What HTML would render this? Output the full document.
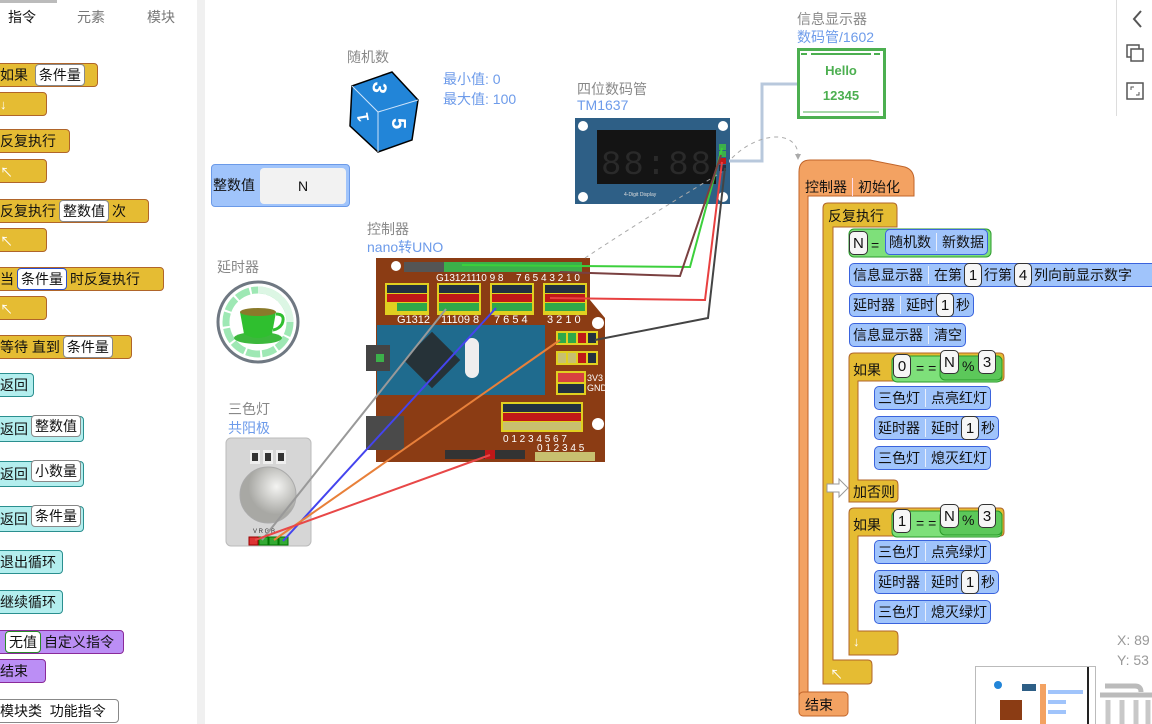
<!DOCTYPE html>
<html><head><meta charset="utf-8">
<style>
*{box-sizing:border-box;margin:0;padding:0}
body{width:1152px;height:724px;overflow:hidden;background:#fff;position:relative;font-family:"Liberation Sans","Noto Sans CJK SC",sans-serif;font-size:14px;color:#111}
.a{position:absolute}
.b{position:absolute;display:flex;align-items:center;white-space:nowrap;border-radius:4px;height:24px;padding:0 3px;font-size:14px}
.y{background:#e5bc33;border:1px solid #b0652a}
.c{background:#b3eeee;border:1px solid #2a8f8f}
.p{background:#bb8ef5;border:1px solid #8a2a9a}
.w{background:#fff;border:1px solid #888;border-radius:4px;height:22px;padding:0 3px;display:flex;align-items:center;margin:0 3px}
.bl{background:#a0c4fb;border:1px solid #3a63dd;border-radius:5px}
.sep{width:1px;height:18px;background:#e8eefc;margin:0 5px}
.n{background:#f6f6f6;border:1px solid #333;border-radius:5px;height:24px;min-width:18px;justify-content:center;display:flex;align-items:center;padding:0 3px;font-size:15px}
.lbl{position:absolute;font-size:14px;color:#888}
.lb2{position:absolute;font-size:14px;color:#6d9bea}
.ar{color:#fff;font-size:13px}
</style></head><body>

<div class="a" style="left:0;top:0;width:57px;height:3px;background:#bbb"></div>
<div class="a" style="left:197px;top:0;width:8px;height:724px;background:#f0f0f0"></div>
<div class="a" style="left:8px;top:7px">指令</div>
<div class="a" style="left:77px;top:7px;color:#777">元素</div>
<div class="a" style="left:147px;top:7px;color:#777">模块</div>

<div class="b y" style="left:-4px;top:63px;width:102px">如果&nbsp;<span class="w">条件量</span></div>
<div class="b y" style="left:-4px;top:92px;width:51px"><span class="ar">↓</span></div>
<div class="b y" style="left:-4px;top:129px;width:74px">反复执行</div>
<div class="b y" style="left:-4px;top:159px;width:51px"><span class="ar">↖</span></div>
<div class="b y" style="left:-4px;top:199px;width:153px">反复执行<span class="w">整数值</span>次</div>
<div class="b y" style="left:-4px;top:228px;width:51px"><span class="ar">↖</span></div>
<div class="b y" style="left:-4px;top:267px;width:168px">当<span class="w" style="border-color:#2a4fd0">条件量</span>时反复执行</div>
<div class="b y" style="left:-4px;top:296px;width:51px"><span class="ar">↖</span></div>
<div class="b y" style="left:-4px;top:335px;width:136px">等待 直到<span class="w">条件量</span></div>
<div class="b c" style="left:-4px;top:373px;width:38px">返回</div>
<div class="b c" style="left:-4px;top:416px;width:88px;height:26px">返回<span class="w" style="margin-top:-6px">整数值</span></div>
<div class="b c" style="left:-4px;top:461px;width:88px;height:26px">返回<span class="w" style="margin-top:-6px">小数量</span></div>
<div class="b c" style="left:-4px;top:506px;width:88px;height:26px">返回<span class="w" style="margin-top:-6px">条件量</span></div>
<div class="b c" style="left:-4px;top:550px;width:67px">退出循环</div>
<div class="b c" style="left:-4px;top:590px;width:67px">继续循环</div>
<div class="b p" style="left:-4px;top:630px;width:128px"><span class="w" style="border-color:#2a8a2a;margin-left:5px">无值</span>自定义指令</div>
<div class="b p" style="left:-4px;top:659px;width:50px">结束</div>
<div class="b" style="left:-4px;top:699px;width:123px;border:1px solid #888;background:#fff">模块类&nbsp;&nbsp;功能指令</div>

<svg class="a" style="left:0;top:0" width="1152" height="724">
 <g stroke="#000" stroke-width="1.5">
  <path d="M352,86 L392,72 L418,100 L412,140 L378,152 L350,126 Z" fill="#2285d8"/>
 </g>
 <path d="M352,86 L378,112 L418,100 M378,112 L378,152" stroke="#cfe4fa" stroke-width="1" fill="none"/>
 <text x="368" y="98" fill="#fff" font-size="20" font-weight="bold" transform="rotate(100 378 92)" font-family="Liberation Sans">3</text>
 <text x="390" y="132" fill="#fff" font-size="20" font-weight="bold" transform="rotate(90 398 126)" font-family="Liberation Sans">5</text>
 <text x="356" y="122" fill="#fff" font-size="16" font-weight="bold" transform="rotate(-100 362 116)" font-family="Liberation Sans">1</text>

 <circle cx="258" cy="322" r="40" fill="#fff" stroke="#6f7882" stroke-width="3"/>
 <circle cx="258" cy="322" r="32" fill="none" stroke="#9ee8b4" stroke-width="7" stroke-dasharray="14 2"/>
 <path d="M258,290 A32,32 0 0 1 290,322" fill="none" stroke="#dcf6e4" stroke-width="7"/>
 <ellipse cx="258" cy="338" rx="24" ry="6" fill="#3cb83c"/>
 <path d="M240,312 L276,312 L272,334 Q258,342 244,334 Z" fill="#2fbf2f"/>
 <ellipse cx="258" cy="312" rx="18" ry="4" fill="#8a7a2a"/>
 <path d="M276,314 q10,0 6,10 q-3,5 -9,6" fill="none" stroke="#2fbf2f" stroke-width="3"/>

 <rect x="226" y="438" width="85" height="108" rx="5" fill="#d6d6d6" stroke="#bbb"/>
 <rect x="250" y="450" width="10" height="14" fill="#eee"/><rect x="252" y="453" width="6" height="8" fill="#333"/>
 <rect x="263" y="450" width="10" height="14" fill="#eee"/><rect x="265" y="453" width="6" height="8" fill="#333"/>
 <rect x="276" y="450" width="10" height="14" fill="#eee"/><rect x="278" y="453" width="6" height="8" fill="#333"/>
 <defs><radialGradient id="g1" cx="0.65" cy="0.35"><stop offset="0" stop-color="#f4f4f2"/><stop offset="1" stop-color="#a8a8a4"/></radialGradient></defs>
 <circle cx="268" cy="495" r="28" fill="url(#g1)" stroke="#aaa"/>
 <rect x="249" y="537" width="9" height="8" fill="#d33" stroke="#900"/>
 <rect x="259" y="537" width="9" height="8" fill="#3a3" stroke="#070"/>
 <rect x="269" y="537" width="9" height="8" fill="#3a3" stroke="#070"/>
 <rect x="279" y="537" width="9" height="8" fill="#3a3" stroke="#070"/>
 <text x="253" y="533" font-size="6" fill="#333">V R G B</text>

 <path d="M376,258 L590,258 L590,300 L605,318 L605,462 L376,462 Z" fill="#8b3c14"/>
 <circle cx="396" cy="266" r="5" fill="#fff"/><circle cx="598" cy="323" r="6" fill="#fff"/><circle cx="598" cy="424" r="6" fill="#fff"/>
 <rect x="404" y="262" width="178" height="10" fill="#555"/>
 <rect x="444" y="262" width="138" height="10" fill="#3cb04a"/>
 <g font-size="10" fill="#fff" font-family="Liberation Sans"><text x="436" y="281">G13121110 9 8</text><text x="516" y="281">7 6 5 4 3 2 1 0</text></g>
 <g fill="#e0d020">
  <rect x="385" y="283" width="44" height="32"/><rect x="437" y="283" width="44" height="32"/><rect x="490" y="283" width="44" height="32"/><rect x="543" y="283" width="44" height="32"/>
 </g>
 <g>
  <rect x="387" y="285" width="40" height="8" fill="#223040"/><rect x="439" y="285" width="40" height="8" fill="#223040"/><rect x="492" y="285" width="40" height="8" fill="#223040"/><rect x="545" y="285" width="40" height="8" fill="#223040"/>
  <rect x="387" y="294" width="40" height="8" fill="#c01818"/><rect x="439" y="294" width="40" height="8" fill="#c01818"/><rect x="492" y="294" width="40" height="8" fill="#c01818"/><rect x="545" y="294" width="40" height="8" fill="#c01818"/>
  <rect x="397" y="303" width="30" height="8" fill="#2fa84a"/><rect x="439" y="303" width="40" height="8" fill="#2fa84a"/><rect x="492" y="303" width="40" height="8" fill="#2fa84a"/><rect x="545" y="303" width="40" height="8" fill="#2fa84a"/>
 </g>
 <g font-size="11" fill="#fff" font-family="Liberation Sans"><text x="397" y="323">G1312</text><text x="441" y="323">11109 8</text><text x="494" y="323">7 6 5 4</text><text x="547" y="323">3 2 1 0</text></g>
 <rect x="377" y="325" width="168" height="70" fill="#1f6b8e"/>
 <rect x="412" y="340" width="40" height="40" fill="#263238" transform="rotate(45 432 360)"/>
 <rect x="465" y="338" width="14" height="40" rx="7" fill="#eee"/>
 <rect x="366" y="345" width="24" height="26" fill="#444"/><rect x="376" y="354" width="8" height="8" fill="#3cb04a"/>
 <rect x="556" y="331" width="42" height="14" fill="#e0d020"/>
 <rect x="558" y="333" width="8" height="10" fill="#2fa84a"/><rect x="568" y="333" width="8" height="10" fill="#2fa84a"/><rect x="578" y="333" width="8" height="10" fill="#c01818"/><rect x="588" y="333" width="8" height="10" fill="#223040"/>
 <rect x="556" y="351" width="42" height="14" fill="#e0d020"/>
 <rect x="558" y="353" width="8" height="10" fill="#c8c070"/><rect x="568" y="353" width="8" height="10" fill="#c8c070"/><rect x="578" y="353" width="8" height="10" fill="#c01818"/><rect x="588" y="353" width="8" height="10" fill="#223040"/>
 <rect x="556" y="371" width="30" height="24" fill="#e0d020"/>
 <rect x="558" y="373" width="26" height="9" fill="#d84040"/><rect x="558" y="384" width="26" height="9" fill="#223040"/>
 <text x="587" y="381" font-size="9" fill="#fff">3V3</text><text x="587" y="391" font-size="9" fill="#fff">GND</text>
 <rect x="501" y="402" width="82" height="30" fill="#e0d020"/>
 <rect x="503" y="404" width="78" height="8" fill="#223040"/><rect x="503" y="413" width="78" height="8" fill="#c01818"/><rect x="503" y="422" width="78" height="8" fill="#c8c070"/>
 <text x="503" y="442" font-size="10" fill="#fff">0 1 2 3 4 5 6 7</text>
 <text x="537" y="451" font-size="10" fill="#fff">0 1 2 3 4 5</text>
 <rect x="535" y="452" width="60" height="9" fill="#c8c070"/>
 <rect x="445" y="450" width="80" height="9" fill="#333"/><rect x="485" y="450" width="10" height="9" fill="#c01818"/>
 <rect x="366" y="416" width="38" height="34" fill="#4a4a4a"/>

 <rect x="575" y="118" width="155" height="86" fill="#2e5f86"/>
 <circle cx="583" cy="126" r="5" fill="#fff"/><circle cx="723" cy="126" r="5" fill="#fff"/><circle cx="583" cy="197" r="5" fill="#fff"/><circle cx="723" cy="197" r="5" fill="#fff"/>
 <rect x="597" y="130" width="119" height="54" fill="#141414"/>
 <text x="601" y="174" font-size="34" fill="#2a2a2a" font-family="Liberation Mono" textLength="110">88:88</text>
 <text x="624" y="196" font-size="5" fill="#ddd">4-Digit Display</text>
 <rect x="719" y="144" width="7" height="6" fill="#3cb04a"/><rect x="719" y="151" width="7" height="6" fill="#3cb04a"/><rect x="719" y="158" width="7" height="6" fill="#c01818"/><rect x="719" y="165" width="7" height="6" fill="#223040"/>

 <rect x="798.5" y="49.5" width="86" height="68" fill="#fff" stroke="#4caf50" stroke-width="3"/>
 <path d="M801,54 h6 M811,54 h60 M874,54 h6" stroke="#4caf50" stroke-width="2"/>
 <path d="M803,112 h76" stroke="#4caf50" stroke-width="1"/>
 <text x="841" y="75" text-anchor="middle" font-size="13" font-weight="bold" fill="#4caf50">Hello</text>
 <text x="841" y="100" text-anchor="middle" font-size="13" font-weight="bold" fill="#4caf50">12345</text>
 <polyline points="729,161 762,161 762,84 797,84" fill="none" stroke="#b8c8dc" stroke-width="3"/>

 <path d="M585,258 Q650,215 722,172" fill="none" stroke="#aaa" stroke-dasharray="4 4"/>
 <path d="M732,158 C760,130 800,130 798,158" fill="none" stroke="#aaa" stroke-dasharray="4 4"/>
 <path d="M795,154 L798,160 L801,154" fill="#aaa"/>

 <g stroke-width="2" fill="none">
  <polyline points="462,265 690,267 722,148" stroke="#3cd03c"/>
  <polyline points="560,272 680,276 721,155" stroke="#7a4040"/>
  <polyline points="550,298 705,300 722,162" stroke="#e84040"/>
  <polyline points="595,340 708,318 725,168" stroke="#444"/>
  <line x1="262" y1="540" x2="446" y2="309" stroke="#999"/>
  <line x1="283" y1="541" x2="496" y2="308" stroke="#4444ee"/>
  <line x1="274" y1="540" x2="560" y2="340" stroke="#e8803a"/>
  <line x1="255" y1="540" x2="490" y2="455" stroke="#e84848"/>
 </g>

 <path d="M799,696 L799,172 Q799,160 810,160 L870,160 L905,167 Q914,170 914,180 L914,196 L808,196 L808,692 Z" fill="#f3a262" stroke="#c0642a"/>
 <rect x="799" y="692" width="49" height="24" rx="4" fill="#f3a262" stroke="#c0642a"/>
 <path d="M823,684 L823,208 Q823,203 828,203 L893,203 Q897,203 897,208 L897,227 L833,227 L833,660 L868,660 Q872,660 872,665 L872,680 Q872,684 868,684 Z" fill="#e5bc33" stroke="#b0652a"/>
 <path d="M849,502 L849,358 Q849,353 854,353 L1000,353 Q1004,353 1004,358 L1004,377 Q1004,381 1000,381 L858,381 L858,480 L894,480 Q898,480 898,485 L898,498 Q898,502 894,502 Z" fill="#e5bc33" stroke="#b0652a"/>
 <path d="M827,484 h12 v-5 l9,9 l-9,9 v-5 h-12 z" fill="#fff" stroke="#999"/>
 <path d="M849,655 L849,513 Q849,508 854,508 L1000,508 Q1004,508 1004,513 L1004,532 Q1004,536 1000,536 L858,536 L858,631 L894,631 Q898,631 898,636 L898,651 Q898,655 894,655 Z" fill="#e5bc33" stroke="#b0652a"/>
 <rect x="849" y="229" width="142" height="28" rx="5" fill="#7ee07a" stroke="#2a9a2a"/>
 <rect x="892" y="356" width="110" height="26" rx="5" fill="#7ee07a" stroke="#2a9a2a"/>
 <rect x="940" y="356" width="62" height="24" rx="5" fill="#5cc85a" stroke="#2a9a2a"/>
 <rect x="892" y="511" width="110" height="26" rx="5" fill="#7ee07a" stroke="#2a9a2a"/>
 <rect x="940" y="511" width="62" height="24" rx="5" fill="#5cc85a" stroke="#2a9a2a"/>

 <rect x="975.5" y="666.5" width="120" height="60" fill="#fff" stroke="#bbb"/>
 <line x1="1088" y1="667" x2="1088" y2="724" stroke="#222" stroke-width="2"/>
 <circle cx="998" cy="685" r="4" fill="#2285d8"/>
 <rect x="1022" y="684" width="14" height="7" fill="#2e5f86"/>
 <rect x="1000" y="700" width="22" height="20" fill="#8b3c14"/>
 <rect x="1040" y="684" width="6" height="40" fill="#f3a262"/>
 <rect x="1048" y="690" width="35" height="4" fill="#a0c4fb"/>
 <rect x="1048" y="700" width="18" height="4" fill="#a0c4fb"/>
 <rect x="1048" y="710" width="18" height="4" fill="#a0c4fb"/>
 <path d="M1100,695 h52 M1105,686 h30 q6,0 6,6" stroke="#bbb" stroke-width="5" fill="none"/>
 <path d="M1108,700 v24 M1122,700 v24 M1136,700 v24 M1148,700 v24" stroke="#c8c8c8" stroke-width="5"/>

 <line x1="1116.5" y1="0" x2="1116.5" y2="116" stroke="#ddd"/>
 <path d="M1141,11 l-7,8 l7,8" stroke="#555" stroke-width="2" fill="none"/>
 <rect x="1127" y="45" width="12" height="12" fill="#fff" stroke="#555" stroke-width="1.5"/>
 <rect x="1131" y="49" width="12" height="12" fill="#fff" stroke="#555" stroke-width="1.5"/>
 <rect x="1127" y="83" width="16" height="16" fill="none" stroke="#555" stroke-width="1.5"/>
 <path d="M1131,90 v-3 h3 M1139,92 v3 h-3" stroke="#555" fill="none"/>
</svg>

<div class="lbl" style="left:347px;top:47px">随机数</div>
<div class="lb2" style="left:443px;top:69px">最小值: 0</div>
<div class="lb2" style="left:443px;top:89px">最大值: 100</div>
<div class="a" style="left:211px;top:164px;width:139px;height:43px;background:#a0c4fb;border:1px solid #6b9ae8;border-radius:4px"></div>
<div class="a" style="left:213px;top:175px">整数值</div>
<div class="a" style="left:260px;top:168px;width:86px;height:36px;background:#f2f2f2;border-radius:4px;text-align:center;line-height:36px">N</div>
<div class="lbl" style="left:217px;top:257px">延时器</div>
<div class="lbl" style="left:228px;top:399px">三色灯</div>
<div class="lb2" style="left:228px;top:418px">共阳极</div>
<div class="lbl" style="left:367px;top:219px">控制器</div>
<div class="lb2" style="left:367px;top:237px">nano转UNO</div>
<div class="lbl" style="left:577px;top:79px">四位数码管</div>
<div class="lb2" style="left:577px;top:97px">TM1637</div>
<div class="lbl" style="left:797px;top:9px">信息显示器</div>
<div class="lb2" style="left:797px;top:27px">数码管/1602</div>
<div class="lbl" style="left:1117px;top:632px;color:#999">X: 89</div>
<div class="lbl" style="left:1117px;top:652px;color:#999">Y: 53</div>

<div class="a" style="left:805px;top:177px;display:flex;align-items:center">控制器<span class="sep" style="background:#fde"></span>初始化</div>
<div class="a" style="left:828px;top:206px">反复执行</div>
<div class="a" style="left:805px;top:695px">结束</div>
<div class="a ar" style="left:830px;top:664px">↖</div>
<div class="a ar" style="left:853px;top:634px">↓</div>
<div class="a" style="left:853px;top:482px">加否则</div>
<div class="a" style="left:853px;top:360px">如果</div>
<div class="a" style="left:853px;top:515px">如果</div>

<div class="b n" style="left:849px;top:231px">N</div>
<div class="a" style="left:871px;top:237px">=</div>
<div class="b bl" style="left:885px;top:229px;height:26px">随机数<span class="sep"></span>新数据</div>
<div class="b bl" style="left:849px;top:263px;width:310px">信息显示器<span class="sep"></span>在第<span class="n" style="margin:0 2px">1</span>行第<span class="n" style="margin:0 2px">4</span>列向前显示数字</div>
<div class="b bl" style="left:849px;top:293px">延时器<span class="sep"></span>延时<span class="n" style="margin:0 2px">1</span>秒</div>
<div class="b bl" style="left:849px;top:323px">信息显示器<span class="sep"></span>清空</div>

<div class="b n" style="left:893px;top:354px">0</div>
<div class="a" style="left:916px;top:360px">= =</div>
<div class="b n" style="left:940px;top:350px">N</div>
<div class="a" style="left:962px;top:358px">%</div>
<div class="b n" style="left:978px;top:350px">3</div>
<div class="b bl" style="left:874px;top:386px">三色灯<span class="sep"></span>点亮红灯</div>
<div class="b bl" style="left:874px;top:416px">延时器<span class="sep"></span>延时<span class="n" style="margin:0 2px">1</span>秒</div>
<div class="b bl" style="left:874px;top:446px">三色灯<span class="sep"></span>熄灭红灯</div>

<div class="b n" style="left:893px;top:509px">1</div>
<div class="a" style="left:916px;top:515px">= =</div>
<div class="b n" style="left:940px;top:504px">N</div>
<div class="a" style="left:962px;top:512px">%</div>
<div class="b n" style="left:978px;top:504px">3</div>
<div class="b bl" style="left:874px;top:540px">三色灯<span class="sep"></span>点亮绿灯</div>
<div class="b bl" style="left:874px;top:570px">延时器<span class="sep"></span>延时<span class="n" style="margin:0 2px">1</span>秒</div>
<div class="b bl" style="left:874px;top:600px">三色灯<span class="sep"></span>熄灭绿灯</div>

</body></html>
